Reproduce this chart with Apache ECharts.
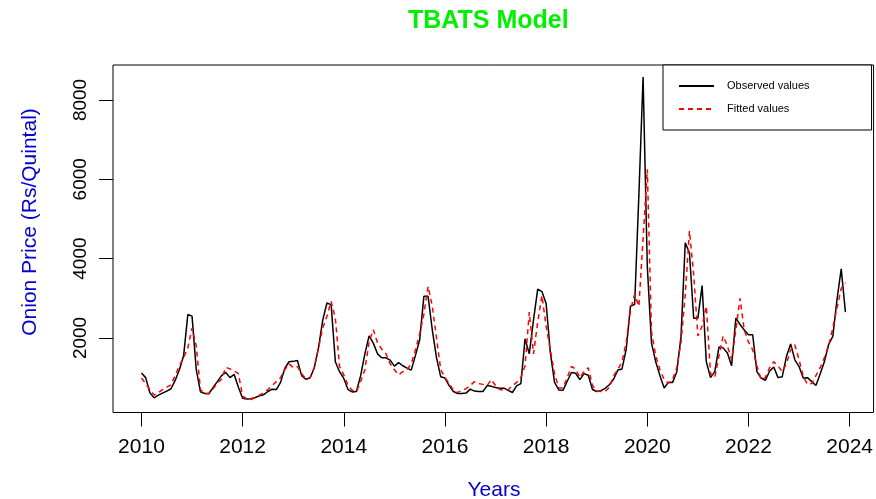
<!DOCTYPE html>
<html>
<head>
<meta charset="utf-8">
<script src="https://cdn.jsdelivr.net/npm/echarts@6/dist/echarts.min.js"></script>
<style>
html,body{margin:0;padding:0;background:#fff;}
#chart{width:876px;height:499px;}
</style>
</head>
<body>
<div id="chart"></div>
<script>
// Monthly series, Jan 2010 .. Dec 2023
const startYear = 2010;
const observed = [
  1116, 1000, 620, 490, 560, 610, 660, 720, 930, 1200, 1550, 2590,
  2550, 1200, 640, 600, 600, 750, 900, 1050, 1130, 1000, 1080, 760,
  480, 460, 470, 500, 540, 570, 650, 710, 700, 880, 1230, 1400,
  1410, 1430, 1050, 960, 990, 1250, 1750, 2450, 2880, 2840, 1400, 1150,
  980, 700, 640, 650, 1050, 1600, 2050, 1870, 1600, 1500, 1500, 1440,
  1290, 1380, 1300, 1240, 1190, 1560, 1950, 3050, 3050, 2200, 1500, 1020,
  990, 800, 650, 600, 600, 610, 710, 660, 650, 650, 800, 780,
  750, 735, 735, 680, 626, 790, 850, 1980, 1600, 2450, 3230, 3170,
  2870, 1630, 880, 690, 680, 910, 1130, 1110, 950, 1100, 1060, 700,
  650, 670, 730, 820, 960, 1190, 1220, 1720, 2800, 2850, 5600, 8580,
  3800, 1870, 1400, 1050, 740, 880, 880, 1150, 2040, 4400, 4150, 2500,
  2500, 3320, 1400, 1000, 1150, 1770, 1750, 1620, 1300, 2500, 2340, 2200,
  2080, 2080, 1150, 990, 930, 1160, 1270, 1000, 1020, 1530, 1850, 1450,
  1280, 990, 1000, 900, 800, 1090, 1400, 1830, 2040, 2970, 3740, 2650
];
const fitted = [
  990, 850, 700, 560, 620, 700, 760, 820, 1050, 1300, 1500, 1750,
  2250, 1800, 700, 600, 590, 720, 860, 960, 1260, 1220, 1170, 1100,
  530, 470, 450, 500, 560, 620, 700, 800, 900, 1000, 1200, 1350,
  1250, 1280, 1100, 970, 1000, 1250, 1750, 2250, 2550, 2920, 2500, 1280,
  1070, 800, 680, 650, 900, 1200, 1900, 2210, 1880, 1720, 1600, 1350,
  1200, 1070, 1150, 1200, 1350, 1700, 2100, 2600, 3300, 2800, 2000, 1200,
  1000, 860, 680, 620, 680, 720, 800, 900, 850, 830, 800, 950,
  800, 700, 680, 700, 790, 880, 1000, 1300, 2650, 1600, 2400, 3070,
  2300, 1700, 1100, 740, 740, 1000, 1280, 1220, 1000, 1150, 1250, 800,
  660, 650, 650, 750, 1050, 1200, 1400, 1900, 2700, 3100, 2800, 4500,
  6250, 2150, 1550, 1200, 950, 860, 950, 1250, 1900, 3100, 4700, 3600,
  2050, 2300, 2800, 1100, 1000, 1550, 2050, 1800, 1450, 2200, 3000, 2200,
  1900, 1700, 1300, 950, 1000, 1250, 1400, 1300, 1150, 1350, 1700, 1830,
  1450, 1030, 830, 850, 1050, 1250, 1500, 1790, 2250, 2750, 3250, 3390
];
const xTicks = [2010, 2012, 2014, 2016, 2018, 2020, 2022, 2024];
const yTicks = [2000, 4000, 6000, 8000];

const toPoints = arr => arr.map((v, i) => [startYear + i / 12, v]);

const chart = echarts.init(document.getElementById('chart'), null, {renderer: 'canvas'});
const FONT = 'Liberation Sans, Arial, Helvetica, sans-serif';

chart.setOption({
  animation: false,
  backgroundColor: '#fff',
  title: {
    text: 'TBATS Model',
    left: 408, top: 9, padding: 0,
    textStyle: {color: '#00f000', fontSize: 25, fontWeight: 'bold', fontFamily: FONT}
  },
  legend: {
    orient: 'vertical',
    left: 663, top: 65,
    itemWidth: 35, itemHeight: 11, itemGap: 12,
    padding: [15.5, 62, 15.5, 15],
    borderColor: '#000', borderWidth: 1, borderRadius: 0,
    backgroundColor: '#fff',
    itemStyle: {color: 'transparent', borderWidth: 0, opacity: 0},
    textStyle: {fontSize: 11, color: '#000', fontFamily: FONT, padding: [0, 0, 0, 8]},
    data: ['Observed values', 'Fitted values']
  },
  grid: {
    left: 113, right: 1, top: 65, bottom: 86.5,
    show: true, borderColor: '#000', borderWidth: 1,
    containLabel: false
  },
  xAxis: {
    type: 'value',
    min: 2009.4376, max: 2024.473,
    axisLine: {show: false, onZero: false},
    splitLine: {show: false},
    axisTick: {show: true, customValues: xTicks, length: 14, lineStyle: {color: '#000', width: 1}},
    axisLabel: {customValues: xTicks, fontSize: 21, color: '#000', margin: 24, fontFamily: FONT,
                formatter: v => String(v)}
  },
  yAxis: {
    type: 'value',
    min: 121, max: 8881,
    axisLine: {show: false, onZero: false},
    splitLine: {show: false},
    axisTick: {show: true, customValues: yTicks, length: 14, lineStyle: {color: '#000', width: 1}},
    axisLabel: {customValues: yTicks, fontSize: 19, color: '#000', margin: 23, rotate: 90, fontFamily: FONT,
                formatter: v => String(v)}
  },
  graphic: [
    {
      type: 'text', x: 30, y: 222, rotation: Math.PI / 2,
      style: {text: 'Onion Price (Rs/Quintal)', fill: '#0000cc', fontSize: 21, fontFamily: FONT,
              textAlign: 'center', textVerticalAlign: 'middle'}
    },
    {
      type: 'text', x: 494, y: 490,
      style: {text: 'Years', fill: '#0000cc', fontSize: 21, fontFamily: FONT,
              textAlign: 'center', textVerticalAlign: 'middle'}
    }
  ],
  series: [
    {
      name: 'Observed values', type: 'line', data: toPoints(observed),
      symbol: 'none', showSymbol: false,
      lineStyle: {color: '#000', width: 1.5},
      itemStyle: {color: '#000'}
    },
    {
      name: 'Fitted values', type: 'line', data: toPoints(fitted),
      symbol: 'none', showSymbol: false,
      lineStyle: {color: '#ff0000', width: 1.5, type: [5, 4]},
      itemStyle: {color: '#ff0000'}
    }
  ]
});
</script>
</body>
</html>
